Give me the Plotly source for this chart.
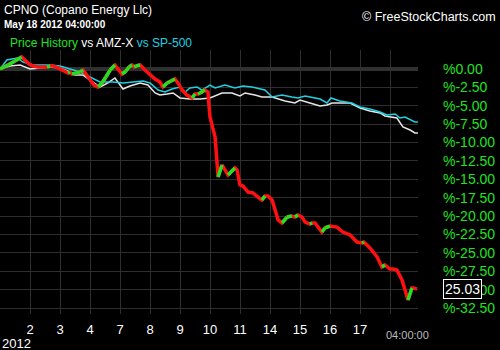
import plotly.graph_objects as go

# ---------------- data ----------------
# x = trading-day index (0 = start of May 1), y = % change
price_t = [0.00, 0.27, 0.50, 0.72, 0.83, 0.97, 1.10, 1.27, 1.43, 1.57, 1.67, 1.77, 1.93, 2.10, 2.27, 2.33,
           2.40, 2.53, 2.67, 2.77, 2.87, 3.00, 3.13, 3.27, 3.40, 3.53, 3.67, 3.83, 3.93, 4.07, 4.20, 4.30,
           4.40, 4.47, 4.53, 4.67, 4.83, 5.00, 5.17, 5.33, 5.43, 5.57, 5.70, 5.83, 5.93, 6.07, 6.23, 6.40,
           6.50, 6.60, 6.67, 6.77, 6.83, 6.93, 7.00, 7.17, 7.27, 7.40, 7.60, 7.83, 7.90, 8.00, 8.10, 8.27,
           8.43, 8.60, 8.73, 8.83, 8.93, 9.07, 9.27, 9.40, 9.57, 9.73, 9.83, 9.93, 10.07, 10.17, 10.33,
           10.40, 10.50, 10.73, 10.83, 11.00, 11.23, 11.43, 11.67, 11.90, 12.07, 12.13, 12.33, 12.57,
           12.73, 12.83, 13.00, 13.10, 13.23, 13.40, 13.57, 13.60, 13.73, 13.77, 13.90]
price_pct = [0.00, 0.54, 1.09, 1.63, 1.22, 0.68, 0.41, 0.27, 0.27, 0.27, 0.41, 0.41, 0.14, -0.14, -0.54, -0.41,
             -0.68, -0.54, -0.41, -0.14, -0.68, -1.50, -2.18, -2.45, -1.90, -1.09, -0.14, 0.54, 0.00, -0.68,
             -0.27, 0.27, 0.54, 0.27, 0.41, 0.54, -0.14, -0.82, -1.36, -1.77, -2.45, -1.90, -1.63, -1.36,
             -1.90, -2.86, -3.54, -3.94, -3.40, -3.40, -3.26, -2.99, -2.86, -3.13, -6.53, -9.25, -14.69,
             -13.05, -14.41, -13.46, -13.73, -15.77, -15.91, -16.73, -16.86, -17.41, -17.82, -17.27, -17.27,
             -17.82, -20.53, -20.94, -20.13, -19.99, -20.13, -19.86, -20.13, -20.81, -21.08, -20.94, -20.94,
             -22.17, -21.62, -21.35, -21.49, -22.17, -22.57, -23.53, -23.66, -23.53, -24.34, -25.56, -26.92,
             -26.65, -27.20, -27.20, -27.33, -28.69, -31.00, -31.41, -29.78, -29.78, -29.92]
last_price = "25.03"

amz_t = [0, 0.33, 0.67, 1.0, 1.33, 1.67, 2.0, 2.33, 2.5, 2.77, 3.1, 3.33, 3.6, 3.83, 4.1, 4.33, 4.67, 4.93,
         5.17, 5.33, 5.57, 5.77, 6.0, 6.33, 6.67, 7.0, 7.4, 7.73, 8.0, 8.17, 8.5, 8.73, 9.07, 9.5, 9.83,
         10.0, 10.33, 10.67, 10.9, 11.07, 11.67, 12.0, 12.33, 12.67, 12.83, 13.23, 13.43, 13.67, 13.83, 13.93]
amz_pct = [0, 0.41, 0.54, 0, 0.14, 0.27, 0.14, -0.41, -0.82, -0.82, -1.77, -2.45, -1.90, -1.22, -2.72, -2.31,
           -1.90, -2.18, -3.26, -3.54, -3.40, -3.26, -3.94, -4.08, -4.08, -3.94, -3.26, -3.26, -3.67, -3.26,
           -3.54, -3.81, -3.81, -4.35, -4.62, -4.22, -4.62, -5.03, -4.90, -4.62, -4.62, -5.30, -5.71, -5.98,
           -6.39, -6.66, -7.89, -8.30, -8.70, -8.70]

sp_t = [0, 0.23, 0.57, 0.77, 1.1, 1.67, 2.0, 2.33, 2.67, 3.0, 3.33, 3.77, 4.1, 4.43, 4.77, 5.0, 5.27, 5.5,
        5.73, 6.0, 6.17, 6.33, 6.57, 6.73, 6.9, 7.0, 7.17, 7.5, 7.83, 8.1, 8.4, 8.83, 9.07, 9.4, 9.73, 9.93,
        10.17, 10.33, 10.67, 10.9, 11.03, 11.33, 11.73, 12.0, 12.33, 12.67, 12.9, 13.17, 13.33, 13.5, 13.83, 13.93]
sp_pct = [0, 1.22, 1.50, 0.95, 0.54, 0.54, 0.41, 0, -0.41, -1.09, -1.77, -1.77, -1.90, -1.77, -1.63, -1.90,
          -2.86, -3.13, -2.72, -2.45, -3.13, -2.58, -2.45, -2.86, -2.45, -2.18, -2.58, -2.18, -2.58, -2.31,
          -2.45, -2.86, -3.81, -3.54, -3.81, -3.94, -3.67, -3.81, -4.08, -4.62, -3.94, -4.35, -4.62, -5.17,
          -5.44, -5.85, -6.25, -6.12, -6.66, -6.53, -7.21, -7.21]

day_ticks = [0, 1, 2, 3, 4, 5, 6, 7, 8, 9, 10, 11, 12, 13]
day_labels = ["", "2", "3", "4", "7", "8", "9", "10", "11", "14", "15", "16", "17", ""]
pct_ticks = [2.5, 0, -2.5, -5, -7.5, -10, -12.5, -15, -17.5, -20, -22.5, -25, -27.5, -30, -32.5]

# ---------------- figure ----------------
W, H = 500, 350
ML, MR, MT, MB = 0, 82, 50, 36
PW, PH = W - ML - MR, H - MT - MB

def px(x):
    return (x - ML) / PW

def py(y):
    return (H - MB - y) / PH

GREEN = "#22e022"
RED = "#ff1010"
CYAN = "#1ed0e2"
WHITE = "#e6e6e6"

fig = go.Figure()
fig.add_trace(go.Scatter(x=amz_t, y=amz_pct, mode="lines",
                         line=dict(color=WHITE, width=1.5), hoverinfo="skip"))
fig.add_trace(go.Scatter(x=sp_t, y=sp_pct, mode="lines",
                         line=dict(color=CYAN, width=1.5), hoverinfo="skip"))
fig.add_trace(go.Scatter(x=price_t, y=price_pct, mode="lines",
                         line=dict(color=RED, width=3.5), hoverinfo="skip"))
gx, gy = [], []
for i in range(len(price_t) - 1):
    if price_pct[i + 1] > price_pct[i]:
        gx += [price_t[i], price_t[i + 1], None]
        gy += [price_pct[i], price_pct[i + 1], None]
fig.add_trace(go.Scatter(x=gx, y=gy, mode="lines",
                         line=dict(color=GREEN, width=3.5), hoverinfo="skip"))

fig.update_layout(
    width=W, height=H, margin=dict(l=ML, r=MR, t=MT, b=MB),
    paper_bgcolor="black", plot_bgcolor="black", showlegend=False,
    font=dict(family="Liberation Sans, Arial, sans-serif", color="white"),
)
fig.update_xaxes(range=[0, 418 / 30], tickvals=day_ticks, ticktext=day_labels,
                 showgrid=True, gridcolor="#2e2e2e", gridwidth=1, zeroline=False,
                 showline=False, ticks="", ticklabelstandoff=6,
                 tickfont=dict(size=13, color="white"))
fig.update_yaxes(range=[(69 - 314) / 7.354, (69 - 50) / 7.354], side="right",
                 tickvals=pct_ticks,
                 ticktext=["" if v > 0 else "%" + format(v, ".2f") for v in pct_ticks],
                 showgrid=True, gridcolor="#2e2e2e", gridwidth=1,
                 zeroline=True, zerolinecolor="#303030", zerolinewidth=4,
                 showline=False, ticks="", ticklabelstandoff=24,
                 tickfont=dict(size=14, color=GREEN))

ann = [
    dict(text="CPNO (Copano Energy Llc)", x=px(2), y=py(10), size=12, color="white", xanchor="left"),
    dict(text="<b>May 18 2012 04:00:00</b>", x=px(2), y=py(25), size=10, color="white", xanchor="left"),
    dict(text=f"<span style='color:{GREEN}'>Price History</span> vs AMZ-X "
              f"<span style='color:{CYAN}'>vs SP-500</span>",
         x=px(8), y=py(43), size=12, color="white", xanchor="left"),
    dict(text="© FreeStockCharts.com", x=px(498), y=py(17), size=12.5, color="white", xanchor="right"),
    dict(text="2012", x=px(0), y=py(343), size=13, color="white", xanchor="left"),
    dict(text="04:00:00", x=px(407), y=py(335), size=11, color="#bbbbbb", xanchor="center"),
]
for a in ann:
    fig.add_annotation(text=a["text"], x=a["x"], y=a["y"], xref="paper", yref="paper",
                       xanchor=a["xanchor"], yanchor="middle", showarrow=False,
                       font=dict(size=a["size"], color=a["color"]))

fig.add_annotation(text=last_price, x=px(443), xref="paper", y=price_pct[-1], yref="y",
                   xanchor="left", yanchor="middle", showarrow=False,
                   bgcolor="black", bordercolor="white", borderwidth=1, borderpad=1,
                   font=dict(size=14, color="white"))

fig.write_html("out.html")
